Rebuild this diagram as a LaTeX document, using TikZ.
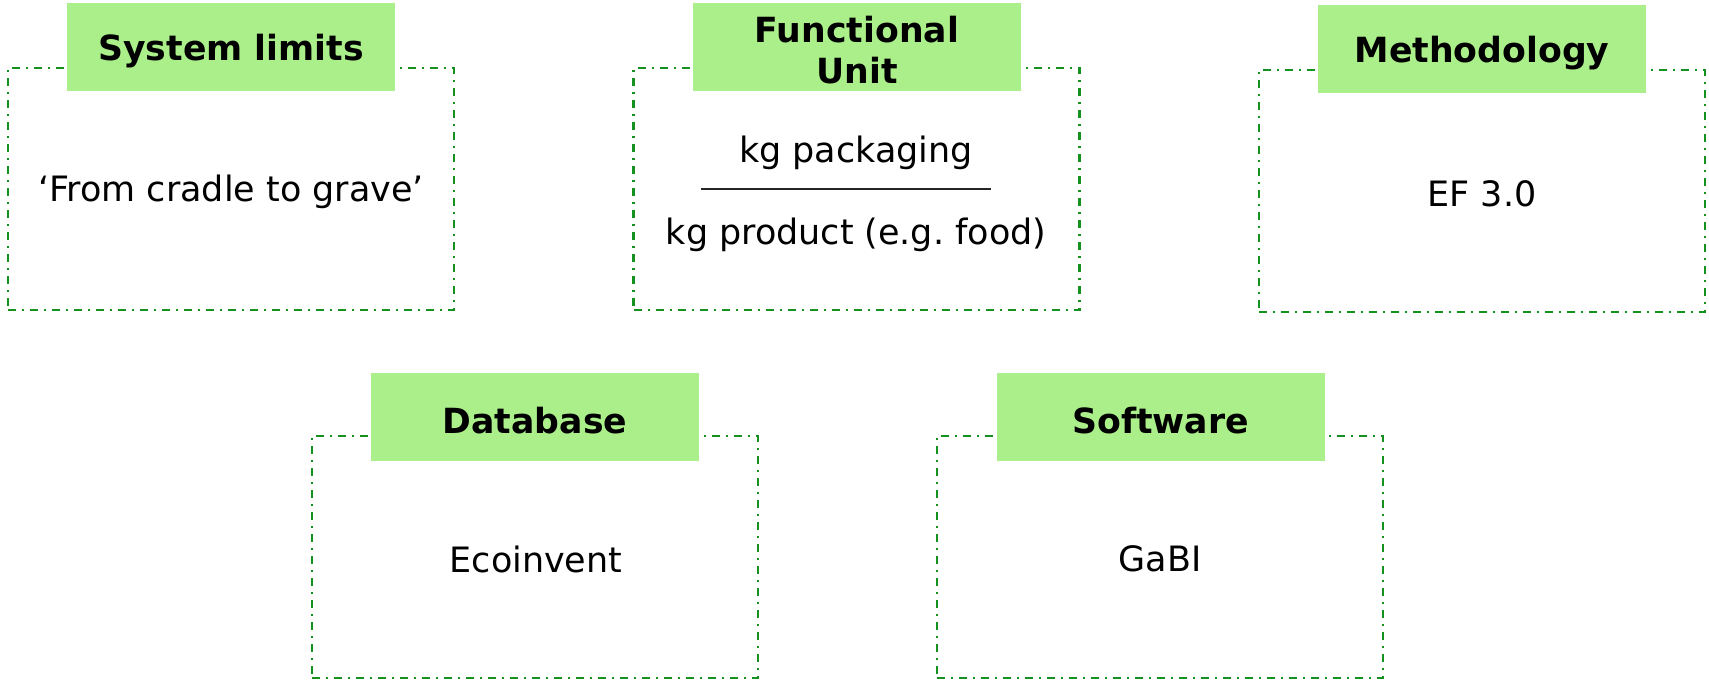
\documentclass[tikz,border=0pt]{standalone}
\usepackage{fontspec}
\setmainfont{DejaVu Sans}
\definecolor{framegreen}{RGB}{20,145,30}
\definecolor{headgreen}{RGB}{170,239,137}
\def\u{0.75pt}
\def\bw{446}
\def\bh{242}
\tikzstyle{frame}=[rectangle,draw=framegreen,line width=2.4*\u,dash pattern=on 8*\u off 6*\u on 2*\u off 6*\u,minimum width=\bw*\u,minimum height=\bh*\u,inner sep=0pt]
\tikzstyle{head}=[rectangle,fill=headgreen,minimum width=328*\u,minimum height=88*\u,inner sep=0pt]
\tikzstyle{htxt}=[inner sep=0pt,align=center,font=\fontsize{26}{31}\selectfont\bfseries]
\tikzstyle{txt}=[inner sep=0pt,font=\fontsize{26.2}{31}\selectfont]

\begin{document}
\begin{tikzpicture}[x=\u,y=-\u]
			\useasboundingbox (0,0) rectangle (1709,679);
			% frames
			\node[frame](limits) at (231,189){};
			\node[frame](unit) at (856.5,189){};
			\node[frame](method) at (1482,191){};
			\node[frame](data) at (535,557){};
			\node[frame](soft) at (1160,557){};
			% headers
			\node[head](hlimits) at (231,47){};
			\node[head](hunit) at (857,47){};
			\node[head](hmethod) at (1482,49){};
			\node[head](hdata) at (535,417){};
			\node[head](hsoft) at (1160.5,417){};
			\node[htxt] at ([yshift=-4*\u]hlimits.center){System limits};
			\node[htxt] at ([yshift=-3*\u]hunit.center){Functional\\Unit};
			\node[htxt] at ([yshift=-4*\u]hmethod.center){Methodology};
			\node[htxt] at ([yshift=-4*\u]hdata.center){Database};
			\node[htxt] at ([yshift=-4*\u]hsoft.center){Software};
			% contents
			\node[txt](tlimits) at (231,192){`From cradle to grave'};
			\node[txt](tpack) at (856,153){kg packaging};
			\coordinate(fl) at (701,189);
			\coordinate(fr) at (991,189);
			\draw[line width=2*\u,draw=black!85](fl)--(fr);
			\node[txt](tprod) at (856,235){kg product (e.g.\ food)};
			\node[txt](tmethod) at (1482,194){EF 3.0};
			\node[txt](tdata) at (536,559){Ecoinvent};
			\node[txt](tsoft) at (1160,559){GaBI};
		\end{tikzpicture}
\end{document}
